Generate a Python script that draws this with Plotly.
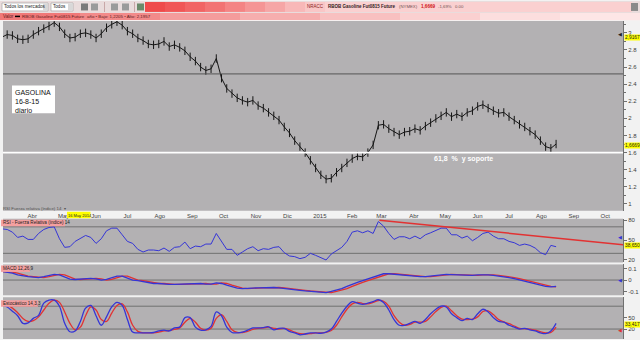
import pandas as pd
import plotly.graph_objects as go
from plotly.subplots import make_subplots

# ---------------- data ----------------
dates = pd.date_range("2014-03-03", periods=107, freq="5D")

price = [2.95, 2.98, 2.97, 2.93, 2.92, 2.93, 2.98, 3.02, 3.05, 3.08,
         3.12, 3.07, 2.99, 2.94, 2.95, 2.99, 3.00, 2.98, 2.94, 2.99,
         3.06, 3.10, 3.13, 3.09, 3.02, 2.99, 2.94, 2.91, 2.87, 2.86,
         2.87, 2.90, 2.84, 2.86, 2.83, 2.79, 2.72, 2.67, 2.60, 2.56,
         2.58, 2.70, 2.47, 2.35, 2.29, 2.24, 2.21, 2.19, 2.21, 2.15,
         2.12, 2.07, 2.03, 1.98, 1.90, 1.83, 1.74, 1.67, 1.60, 1.51,
         1.42, 1.34, 1.29, 1.30, 1.37, 1.42, 1.48, 1.53, 1.56, 1.55,
         1.60, 1.69, 1.92, 1.93, 1.88, 1.84, 1.81, 1.84, 1.85, 1.88,
         1.86, 1.91, 1.95, 2.00, 2.03, 2.07, 2.02, 2.05, 2.02, 2.07,
         2.09, 2.14, 2.16, 2.12, 2.09, 2.06, 2.07, 2.02, 1.98, 1.93,
         1.90, 1.85, 1.81, 1.74, 1.67, 1.65, 1.70]

rsi = [67, 66, 62, 54, 56, 51, 51, 60, 66, 69,
       70, 52, 39, 40, 48, 52, 57, 54, 45, 52,
       64, 68, 68, 58, 48, 45, 36, 32, 35, 35,
       34, 38, 33, 39, 40, 47, 37, 41, 40, 44,
       44, 60, 48, 36, 36, 27, 32, 37, 40, 34,
       37, 36, 39, 40, 31, 26, 25, 22, 24, 30,
       27, 23, 20, 29, 34, 39, 48, 62, 64, 61,
       64, 60, 78, 71, 60, 51, 55, 55, 52, 56,
       52, 58, 61, 65, 68, 68, 58, 58, 53, 56,
       49, 54, 60, 62, 56, 52, 52, 48, 46, 42,
       44, 42, 38, 31, 28, 42, 40]

macd = [.075, .07, .06, .045, .035, .03, .025, .022, .03, .042,
        .05, .045, .025, .008, .005, .01, .015, .015, .01, .0,
        .005, .02, .035, .035, .02, .0, -.005, -.015, -.025, -.03,
        -.03, -.035, -.037, -.038, -.037, -.033, -.03, -.028, -.03, -.035,
        -.035, -.025, -.03, -.045, -.06, -.07, -.075, -.075, -.07, -.068,
        -.065, -.065, -.065, -.068, -.072, -.078, -.085, -.09, -.095, -.1,
        -.105, -.11, -.11, -.1, -.09, -.075, -.055, -.035, -.02, -.005,
        .01, .025, .045, .055, .055, .05, .045, .04, .035, .032,
        .03, .03, .035, .04, .045, .05, .048, .045, .04, .04,
        .04, .045, .048, .045, .04, .035, .03, .022, .012, .0,
        -.012, -.025, -.035, -.045, -.055, -.06, -.055]

macd_signal = [.075, .075, .07, .06, .045, .035, .03, .025, .022, .03,
               .042, .05, .045, .025, .008, .005, .01, .015, .015, .01,
               .0, .005, .02, .035, .035, .02, .0, -.005, -.015, -.025,
               -.03, -.03, -.035, -.037, -.038, -.037, -.033, -.03, -.028, -.03,
               -.035, -.035, -.025, -.03, -.045, -.06, -.07, -.075, -.075, -.07,
               -.068, -.065, -.065, -.065, -.068, -.072, -.078, -.085, -.09, -.095,
               -.1, -.105, -.11, -.11, -.1, -.09, -.075, -.055, -.035, -.02,
               -.005, .01, .025, .045, .055, .055, .05, .045, .04, .035,
               .032, .03, .03, .035, .04, .045, .05, .048, .045, .04,
               .04, .04, .045, .048, .045, .04, .035, .03, .022, .012,
               .0, -.012, -.025, -.035, -.045, -.055, -.06]

stoch_k = [83, 78, 67, 55, 35, 36, 48, 56, 88, 96,
           96, 80, 35, 13, 15, 40, 75, 82, 55, 30,
           52, 78, 90, 82, 45, 12, 10, 10, 10, 11,
           15, 17, 15, 23, 25, 50, 50, 25, 17, 18,
           27, 65, 55, 25, 11, 10, 12, 17, 23, 23,
           24, 26, 18, 22, 22, 14, 10, 5, 7, 10,
           10, 9, 12, 20, 40, 62, 80, 92, 88, 85,
           88, 92, 97, 90, 70, 45, 30, 30, 35, 40,
           35, 45, 60, 72, 80, 78, 60, 50, 42, 48,
           45, 60, 72, 65, 50, 40, 38, 30, 25, 20,
           22, 18, 15, 10, 8, 15, 35]

stoch_d = [85, 82, 75, 63, 48, 40, 42, 52, 70, 88,
           96, 90, 65, 35, 18, 25, 55, 78, 70, 45,
           40, 62, 82, 86, 65, 30, 14, 10, 10, 10,
           12, 15, 16, 19, 23, 38, 48, 38, 22, 17,
           22, 48, 58, 40, 18, 11, 11, 14, 19, 22,
           23, 25, 22, 20, 22, 18, 12, 8, 7, 8,
           10, 10, 11, 16, 30, 52, 72, 86, 90, 87,
           86, 90, 95, 93, 80, 55, 38, 30, 32, 38,
           38, 40, 52, 66, 77, 80, 68, 55, 46, 45,
           46, 52, 66, 68, 58, 45, 39, 34, 28, 22,
           21, 20, 17, 13, 10, 11, 25]

price_levels = [2.52, 1.60]               # dark resistance line, white support line
rsi_trend_dates = ["2015-02-27", "2015-10-18"]
rsi_trend_vals = [80, 43]

month_ticks = ["2014-04-01", "2014-05-01", "2014-06-01", "2014-07-01", "2014-08-01",
               "2014-09-01", "2014-10-01", "2014-11-01", "2014-12-01", "2015-01-01",
               "2015-02-01", "2015-03-01", "2015-04-01", "2015-05-01", "2015-06-01",
               "2015-07-01", "2015-08-01", "2015-09-01", "2015-10-01"]
month_labels = ["Abr", "May", "Jun", "Jul", "Ago", "Sep", "Oct", "Nov", "Dic", "2015",
                "Feb", "Mar", "Abr", "May", "Jun", "Jul", "Ago", "Sep", "Oct"]

# ---------------- helpers (pixel -> paper) ----------------
W, H = 640, 340
def px(x):
    return x / W
def py(y):
    return 1 - y / H

FONT = "Liberation Sans"
BLUE = "#3535d6"
RED = "#e23232"
GRAY_BG = "#b3b1b3"

fig = make_subplots(rows=4, cols=1, shared_xaxes=True, vertical_spacing=0)

n = len(price)
fig.add_trace(go.Scatter(x=dates[:n], y=price, mode="lines+markers",
                         line=dict(color="#151515", width=1),
                         marker=dict(symbol="line-ns", size=6,
                                     line=dict(color="#151515", width=1)),
                         hoverinfo="skip"), row=1, col=1)

fig.add_trace(go.Scatter(x=dates[:len(rsi)], y=rsi, mode="lines",
                         line=dict(color=BLUE, width=1)), row=2, col=1)
fig.add_trace(go.Scatter(x=rsi_trend_dates, y=rsi_trend_vals, mode="lines",
                         line=dict(color=RED, width=1.5)), row=2, col=1)

fig.add_trace(go.Scatter(x=dates[:len(macd_signal)], y=macd_signal, mode="lines",
                         line=dict(color=RED, width=1.3)), row=3, col=1)
fig.add_trace(go.Scatter(x=dates[:len(macd)], y=macd, mode="lines",
                         line=dict(color=BLUE, width=1.3)), row=3, col=1)

fig.add_trace(go.Scatter(x=dates[:len(stoch_d)], y=stoch_d, mode="lines",
                         line=dict(color=RED, width=1.3, shape="spline")), row=4, col=1)
fig.add_trace(go.Scatter(x=dates[:len(stoch_k)], y=stoch_k, mode="lines",
                         line=dict(color=BLUE, width=1.3, shape="spline")), row=4, col=1)

# ---------------- axes ----------------
xdom = [px(3), px(623)]
xrange = ["2014-03-04", "2015-10-18"]
for i in range(1, 5):
    fig.update_xaxes(row=i, col=1, domain=xdom, range=xrange, showgrid=False,
                     zeroline=False, showline=False, showticklabels=False, ticks="")
fig.update_xaxes(row=1, col=1, showticklabels=True, tickmode="array",
                 tickvals=month_ticks, ticktext=month_labels,
                 tickfont=dict(family=FONT, size=6, color="#404040"), ticklen=0)

yfont = dict(family=FONT, size=6, color="#404040")
common_y = dict(side="right", showgrid=False, zeroline=False, showline=True,
                linecolor="#707070", linewidth=1, ticks="outside", ticklen=3,
                tickcolor="#707070", tickfont=yfont, fixedrange=True)
fig.update_yaxes(row=1, col=1, domain=[py(211), py(20)], range=[0.92, 3.14],
                 tickvals=[1, 1.2, 1.4, 1.6, 1.8, 2, 2.2, 2.4, 2.6, 2.8, 3],
                 ticktext=["1", "1.2", "1.4", "1.6", "1.8", "2", "2.2", "2.4", "2.6", "2.8", "3"],
                 minor=dict(ticks="outside", ticklen=2, dtick=0.1, tickcolor="#707070"),
                 **common_y)
fig.update_yaxes(row=2, col=1, domain=[py(263), py(219)], range=[16.25, 82.25],
                 tickvals=[20, 50, 80], **common_y)
fig.update_yaxes(row=3, col=1, domain=[py(296), py(265)], range=[-0.133, 0.1365],
                 tickvals=[-0.1, 0, 0.1], ticktext=["-0.1", "0", "0.1"], **common_y)
fig.update_yaxes(row=4, col=1, domain=[0, py(298)], range=[-6.1, 103.5],
                 tickvals=[20, 50], **common_y)

# ---------------- shapes ----------------
shapes = []
def rect(x0, y0, x1, y1, fill, line=None, lw=0):
    shapes.append(dict(type="rect", xref="paper", yref="paper", x0=px(x0), x1=px(x1),
                       y0=py(y1), y1=py(y0), fillcolor=fill, layer="above",
                       line=dict(color=line or fill, width=lw)))

# toolbar row
rect(0, 0, 640, 12, "#e9dcdc")
rect(2, 2, 48, 10, "#ffffff", "#9a9a9a", 0.6)
rect(43, 2.5, 48, 9.5, "#d8d8d8")
rect(51, 2, 73, 10, "#ffffff", "#9a9a9a", 0.6)
rect(68, 2.5, 73, 9.5, "#d8d8d8")
rect(81, 2.5, 88, 9.5, "#7a7a7a")
rect(91, 2.5, 98, 9.5, "#9a9a9a")
rect(104, 1, 105, 11, "#c8a8a8")
rect(111, 2.5, 118, 9.5, "#9a9a9a")
rect(122, 2.5, 129, 9.5, "#9a9a9a")
rect(134, 1, 135, 11, "#c8a8a8")
rect(137, 2.5, 144, 9.5, "#6a8a6a")
# red gradient bar
grad = ["#ef4a4a", "#f05656", "#f16464", "#f27373", "#f48484",
        "#f59595", "#f6a6a6", "#f8b8b8", "#f9c6c6", "#fad0d0"]
seg_x = [145, 165, 185, 205, 225, 245, 265, 285, 305, 325]
for k, c in enumerate(grad):
    x1 = seg_x[k + 1] if k + 1 < len(seg_x) else 632
    rect(seg_x[k], 1, x1, 11, c)
rect(631, 2, 638, 10, "#8a8a8a")
# second row (legend bar)
grad2 = ["#f07878", "#f28a8a", "#f49c9c", "#f6aeae", "#f8c0c0", "#fad0d0", "#fcdede", "#fde6e6"]
for k, c in enumerate(grad2):
    rect(k * 80, 12, (k + 1) * 80, 19, c)
rect(0, 19, 640, 20, "#f6f0f0")
shapes.append(dict(type="line", xref="paper", yref="paper", x0=px(15), x1=px(20),
                   y0=py(15.5), y1=py(15.5), line=dict(color="#000000", width=1.5)))

# price lines
shapes.append(dict(type="line", xref="x domain", yref="y", x0=0, x1=1,
                   y0=price_levels[0], y1=price_levels[0], line=dict(color="#555555", width=1)))
shapes.append(dict(type="line", xref="x domain", yref="y", x0=0, x1=1,
                   y0=price_levels[1], y1=price_levels[1], line=dict(color="#ffffff", width=1.6)))
# indicator reference lines
for yref, xref, v in [("y2", "x2 domain", 70), ("y2", "x2 domain", 30),
                      ("y3", "x3 domain", 0),
                      ("y4", "x4 domain", 80), ("y4", "x4 domain", 20)]:
    shapes.append(dict(type="line", xref=xref, yref=yref, x0=0, x1=1, y0=v, y1=v,
                       layer="below", line=dict(color="#707070", width=1)))

# GASOLINA box
rect(12, 85, 55, 113, "#ffffff")
# panel label boxes
rect(1, 220, 65, 226.5, "#f4a0a0")
rect(1, 266, 30, 272.5, "#f4a0a0")
rect(1, 301, 38, 307.5, "#f4a0a0")
# cursor date flag (box covers part of the month label underneath, as in the original)
rect(67, 212, 90.5, 218.5, "#ffff00")

# ---------------- annotations ----------------
ann = []
def text(x, y, s, size=6, color="#202020", anchor="left", bold=False, bg=None, yanchor="middle"):
    d = dict(xref="paper", yref="paper", x=px(x), y=py(y), text=("<b>%s</b>" % s) if bold else s,
             showarrow=False, xanchor=anchor, yanchor=yanchor,
             font=dict(family=FONT, size=size, color=color), borderpad=0)
    if bg:
        d["bgcolor"] = bg
    ann.append(d)

text(3, 6, "Todos los mercados", 4.6)
text(52, 6, "Todos", 4.6)
text(306, 6, "NRACC", 4.5, "#8a2020")
text(327, 6, "RBOB Gasoline Fut0815 Future", 4.5, "#302020", bold=True)
text(398, 6, "(NYMEX)", 4.3, "#705050")
text(420, 6, "1,6669", 4.6, "#d01010", bold=True)
text(437, 6, "-1,69%", 4.3, "#705050")
text(454, 6, "0.00", 4.3, "#705050")
text(2, 15.5, "Valor", 4.6, "#602020")
text(21, 15.5, "RBOB Gasoline Fut0815 Future", 4.4, "#602020")
text(86, 15.5, "año • Bajo: 1,2205 • Alto: 2,1957", 4.4, "#602020")

ann.append(dict(xref="paper", yref="paper", x=px(13), y=py(87), xanchor="left", yanchor="top",
                text="GASOLINA<br>16-8-15<br>diario", showarrow=False, align="left",
                font=dict(family=FONT, size=7, color="#101010")))
text(433, 159, "61,8  %  y soporte", 7, "#ffffff", bold=True)

text(2, 209, "RSI Fuerza relativa (índice) 14  ▾", 4.3, "#505050")
text(80, 215.3, "16 May 2014", 4.0, "#202020", anchor="center")

text(2, 223.3, "RSI - Fuerza Relativa (índice) 14", 4.6, "#202020")
text(2, 269.3, "MACD 12,26,9", 4.6, "#202020")
text(2, 304.3, "Estocástico 14,3,3", 4.6, "#202020")

# right-axis value flags
text(624, 37, "2,9167", 4.8, "#202020", bg="#ffff00")
text(624, 145, "1,6669", 4.8, "#202020", bg="#ffff00")
text(624, 246, "38,650", 4.8, "#202020", bg="#ffff00")
text(624, 325, "33,417", 4.8, "#202020", bg="#ffff00")
text(623, 34, "◀", 4.5, "#202020", anchor="right")
text(623, 238, "◀", 4.5, BLUE, anchor="right")
text(623, 281, "◀", 4.5, BLUE, anchor="right")
text(623, 331, "◀", 4.5, RED, anchor="right")

fig.update_layout(width=W, height=H, margin=dict(l=0, r=0, t=0, b=0),
                  paper_bgcolor="#f2f2f2", plot_bgcolor=GRAY_BG,
                  showlegend=False, shapes=shapes, annotations=ann,
                  font=dict(family=FONT))

fig.write_html("out.html", config={"displayModeBar": False})
